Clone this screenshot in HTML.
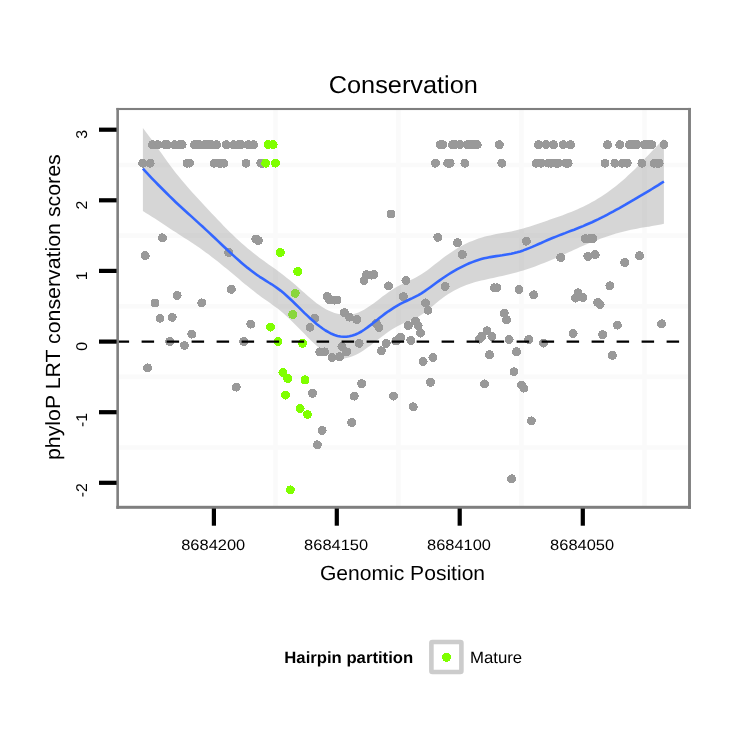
<!DOCTYPE html>
<html lang="en">
<head>
<meta charset="utf-8">
<title>Conservation</title>
<style>
html,body{margin:0;padding:0;background:#fff;}
body{width:750px;height:750px;overflow:hidden;}
svg{display:block;}
text{font-family:"Liberation Sans",sans-serif;fill:#000;text-rendering:geometricPrecision;}
.tk{font-size:15px;}
.ax{font-size:20.5px;}
.tt{font-size:24.4px;}
.lg{font-size:16.3px;}
</style>
</head>
<body>
<svg width="750" height="750" viewBox="0 0 750 750">
<rect x="0" y="0" width="750" height="750" fill="#ffffff"/>

<g stroke="#fafafa" fill="none">
<line x1="275.5" y1="109.3" x2="275.5" y2="507.4" stroke-width="4.6"/>
<line x1="398.4" y1="109.3" x2="398.4" y2="507.4" stroke-width="4.6"/>
<line x1="521.4" y1="109.3" x2="521.4" y2="507.4" stroke-width="4.6"/>
<line x1="644.5" y1="109.3" x2="644.5" y2="507.4" stroke-width="4.6"/>
<line x1="117.7" y1="165.0" x2="689.4" y2="165.0" stroke-width="4.6"/>
<line x1="117.7" y1="235.6" x2="689.4" y2="235.6" stroke-width="4.6"/>
<line x1="117.7" y1="306.2" x2="689.4" y2="306.2" stroke-width="4.6"/>
<line x1="117.7" y1="376.9" x2="689.4" y2="376.9" stroke-width="4.6"/>
<line x1="117.7" y1="447.5" x2="689.4" y2="447.5" stroke-width="4.6"/>
</g>
<g fill="#999999" shape-rendering="crispEdges">
<circle cx="142.7" cy="163.2" r="4.5"/>
<circle cx="145.2" cy="255.6" r="4.5"/>
<circle cx="147.7" cy="367.9" r="4.5"/>
<circle cx="150.1" cy="163.2" r="4.5"/>
<circle cx="152.6" cy="144.7" r="4.5"/>
<circle cx="155.0" cy="303.1" r="4.5"/>
<circle cx="157.5" cy="144.7" r="4.5"/>
<circle cx="160.0" cy="318.3" r="4.5"/>
<circle cx="162.4" cy="237.8" r="4.5"/>
<circle cx="164.9" cy="144.7" r="4.5"/>
<circle cx="167.3" cy="144.7" r="4.5"/>
<circle cx="169.8" cy="341.5" r="4.5"/>
<circle cx="172.2" cy="317.3" r="4.5"/>
<circle cx="174.7" cy="144.7" r="4.5"/>
<circle cx="177.2" cy="295.5" r="4.5"/>
<circle cx="179.6" cy="144.7" r="4.5"/>
<circle cx="182.1" cy="144.7" r="4.5"/>
<circle cx="184.5" cy="345.5" r="4.5"/>
<circle cx="187.0" cy="163.2" r="4.5"/>
<circle cx="189.5" cy="163.2" r="4.5"/>
<circle cx="191.9" cy="334.1" r="4.5"/>
<circle cx="194.4" cy="144.7" r="4.5"/>
<circle cx="196.8" cy="144.7" r="4.5"/>
<circle cx="199.3" cy="144.7" r="4.5"/>
<circle cx="201.8" cy="302.9" r="4.5"/>
<circle cx="204.2" cy="144.7" r="4.5"/>
<circle cx="206.7" cy="144.7" r="4.5"/>
<circle cx="209.1" cy="144.7" r="4.5"/>
<circle cx="211.6" cy="144.7" r="4.5"/>
<circle cx="214.1" cy="163.2" r="4.5"/>
<circle cx="216.5" cy="144.7" r="4.5"/>
<circle cx="219.0" cy="163.2" r="4.5"/>
<circle cx="221.4" cy="163.2" r="4.5"/>
<circle cx="223.9" cy="163.2" r="4.5"/>
<circle cx="226.3" cy="144.7" r="4.5"/>
<circle cx="228.8" cy="252.5" r="4.5"/>
<circle cx="231.3" cy="289.3" r="4.5"/>
<circle cx="233.7" cy="144.7" r="4.5"/>
<circle cx="236.2" cy="387.1" r="4.5"/>
<circle cx="238.6" cy="144.7" r="4.5"/>
<circle cx="241.1" cy="144.7" r="4.5"/>
<circle cx="243.6" cy="341.5" r="4.5"/>
<circle cx="246.0" cy="163.2" r="4.5"/>
<circle cx="248.5" cy="144.7" r="4.5"/>
<circle cx="250.9" cy="324.1" r="4.5"/>
<circle cx="253.4" cy="144.7" r="4.5"/>
<circle cx="255.9" cy="239.0" r="4.5"/>
<circle cx="258.3" cy="240.6" r="4.5"/>
<circle cx="260.8" cy="163.2" r="4.5"/>
<circle cx="263.2" cy="163.2" r="4.5"/>
<circle cx="310.0" cy="327.3" r="4.5"/>
<circle cx="312.4" cy="393.3" r="4.5"/>
<circle cx="314.9" cy="318.1" r="4.5"/>
<circle cx="317.3" cy="444.8" r="4.5"/>
<circle cx="319.8" cy="351.9" r="4.5"/>
<circle cx="322.2" cy="430.5" r="4.5"/>
<circle cx="324.7" cy="351.9" r="4.5"/>
<circle cx="327.2" cy="296.3" r="4.5"/>
<circle cx="329.6" cy="300.0" r="4.5"/>
<circle cx="332.1" cy="357.6" r="4.5"/>
<circle cx="334.5" cy="300.1" r="4.5"/>
<circle cx="337.0" cy="300.1" r="4.5"/>
<circle cx="339.5" cy="356.6" r="4.5"/>
<circle cx="341.9" cy="346.6" r="4.5"/>
<circle cx="344.4" cy="312.6" r="4.5"/>
<circle cx="346.8" cy="351.9" r="4.5"/>
<circle cx="349.3" cy="317.1" r="4.5"/>
<circle cx="351.8" cy="422.5" r="4.5"/>
<circle cx="354.2" cy="396.1" r="4.5"/>
<circle cx="356.7" cy="319.6" r="4.5"/>
<circle cx="359.1" cy="343.3" r="4.5"/>
<circle cx="361.6" cy="383.6" r="4.5"/>
<circle cx="364.0" cy="280.6" r="4.5"/>
<circle cx="366.5" cy="274.6" r="4.5"/>
<circle cx="369.0" cy="275.1" r="4.5"/>
<circle cx="371.4" cy="275.1" r="4.5"/>
<circle cx="373.9" cy="274.6" r="4.5"/>
<circle cx="376.3" cy="323.4" r="4.5"/>
<circle cx="378.8" cy="327.4" r="4.5"/>
<circle cx="381.3" cy="350.8" r="4.5"/>
<circle cx="386.2" cy="343.4" r="4.5"/>
<circle cx="388.6" cy="285.9" r="4.5"/>
<circle cx="391.1" cy="214.0" r="4.5"/>
<circle cx="393.6" cy="396.1" r="4.5"/>
<circle cx="396.0" cy="341.1" r="4.5"/>
<circle cx="398.5" cy="339.1" r="4.5"/>
<circle cx="400.9" cy="337.1" r="4.5"/>
<circle cx="403.4" cy="296.6" r="4.5"/>
<circle cx="405.9" cy="280.4" r="4.5"/>
<circle cx="408.3" cy="325.4" r="4.5"/>
<circle cx="410.8" cy="340.4" r="4.5"/>
<circle cx="413.2" cy="406.8" r="4.5"/>
<circle cx="415.7" cy="321.1" r="4.5"/>
<circle cx="418.1" cy="325.9" r="4.5"/>
<circle cx="420.6" cy="333.1" r="4.5"/>
<circle cx="423.1" cy="361.4" r="4.5"/>
<circle cx="425.5" cy="302.9" r="4.5"/>
<circle cx="428.0" cy="310.3" r="4.5"/>
<circle cx="430.4" cy="382.3" r="4.5"/>
<circle cx="432.9" cy="357.5" r="4.5"/>
<circle cx="435.4" cy="163.2" r="4.5"/>
<circle cx="437.8" cy="237.3" r="4.5"/>
<circle cx="440.3" cy="144.7" r="4.5"/>
<circle cx="442.7" cy="144.7" r="4.5"/>
<circle cx="445.2" cy="286.5" r="4.5"/>
<circle cx="447.7" cy="163.2" r="4.5"/>
<circle cx="450.1" cy="163.2" r="4.5"/>
<circle cx="452.6" cy="144.7" r="4.5"/>
<circle cx="455.0" cy="144.7" r="4.5"/>
<circle cx="457.5" cy="242.6" r="4.5"/>
<circle cx="460.0" cy="144.7" r="4.5"/>
<circle cx="462.4" cy="254.5" r="4.5"/>
<circle cx="464.9" cy="163.2" r="4.5"/>
<circle cx="467.3" cy="144.7" r="4.5"/>
<circle cx="469.8" cy="144.7" r="4.5"/>
<circle cx="472.2" cy="144.7" r="4.5"/>
<circle cx="474.7" cy="144.7" r="4.5"/>
<circle cx="477.2" cy="144.7" r="4.5"/>
<circle cx="479.6" cy="339.1" r="4.5"/>
<circle cx="482.1" cy="336.0" r="4.5"/>
<circle cx="484.5" cy="383.9" r="4.5"/>
<circle cx="487.0" cy="330.8" r="4.5"/>
<circle cx="489.5" cy="354.8" r="4.5"/>
<circle cx="491.9" cy="336.6" r="4.5"/>
<circle cx="494.4" cy="287.8" r="4.5"/>
<circle cx="496.8" cy="287.8" r="4.5"/>
<circle cx="499.3" cy="144.7" r="4.5"/>
<circle cx="501.8" cy="163.2" r="4.5"/>
<circle cx="504.2" cy="313.1" r="4.5"/>
<circle cx="506.7" cy="319.9" r="4.5"/>
<circle cx="509.1" cy="339.5" r="4.5"/>
<circle cx="511.6" cy="478.8" r="4.5"/>
<circle cx="514.0" cy="371.8" r="4.5"/>
<circle cx="516.5" cy="351.6" r="4.5"/>
<circle cx="519.0" cy="289.6" r="4.5"/>
<circle cx="521.4" cy="385.1" r="4.5"/>
<circle cx="523.9" cy="388.1" r="4.5"/>
<circle cx="526.3" cy="241.2" r="4.5"/>
<circle cx="528.8" cy="339.5" r="4.5"/>
<circle cx="531.3" cy="420.9" r="4.5"/>
<circle cx="533.7" cy="294.8" r="4.5"/>
<circle cx="536.2" cy="163.2" r="4.5"/>
<circle cx="538.6" cy="144.7" r="4.5"/>
<circle cx="541.1" cy="163.2" r="4.5"/>
<circle cx="543.6" cy="343.1" r="4.5"/>
<circle cx="546.0" cy="144.7" r="4.5"/>
<circle cx="548.5" cy="163.2" r="4.5"/>
<circle cx="550.9" cy="163.2" r="4.5"/>
<circle cx="553.4" cy="144.7" r="4.5"/>
<circle cx="555.9" cy="163.2" r="4.5"/>
<circle cx="558.3" cy="163.2" r="4.5"/>
<circle cx="560.8" cy="257.5" r="4.5"/>
<circle cx="563.2" cy="144.7" r="4.5"/>
<circle cx="565.7" cy="163.2" r="4.5"/>
<circle cx="568.1" cy="163.2" r="4.5"/>
<circle cx="570.6" cy="144.7" r="4.5"/>
<circle cx="573.1" cy="333.5" r="4.5"/>
<circle cx="575.5" cy="298.1" r="4.5"/>
<circle cx="578.0" cy="292.9" r="4.5"/>
<circle cx="580.4" cy="296.6" r="4.5"/>
<circle cx="582.9" cy="297.6" r="4.5"/>
<circle cx="585.4" cy="238.6" r="4.5"/>
<circle cx="587.8" cy="256.4" r="4.5"/>
<circle cx="590.3" cy="238.6" r="4.5"/>
<circle cx="592.7" cy="238.6" r="4.5"/>
<circle cx="595.2" cy="254.6" r="4.5"/>
<circle cx="597.7" cy="302.6" r="4.5"/>
<circle cx="600.1" cy="304.4" r="4.5"/>
<circle cx="602.6" cy="334.6" r="4.5"/>
<circle cx="605.0" cy="163.2" r="4.5"/>
<circle cx="607.5" cy="144.7" r="4.5"/>
<circle cx="609.9" cy="285.8" r="4.5"/>
<circle cx="612.4" cy="355.4" r="4.5"/>
<circle cx="614.9" cy="163.2" r="4.5"/>
<circle cx="617.3" cy="325.1" r="4.5"/>
<circle cx="619.8" cy="144.7" r="4.5"/>
<circle cx="622.2" cy="163.2" r="4.5"/>
<circle cx="624.7" cy="262.5" r="4.5"/>
<circle cx="627.2" cy="163.2" r="4.5"/>
<circle cx="629.6" cy="144.7" r="4.5"/>
<circle cx="632.1" cy="144.7" r="4.5"/>
<circle cx="634.5" cy="144.7" r="4.5"/>
<circle cx="637.0" cy="144.7" r="4.5"/>
<circle cx="639.5" cy="255.6" r="4.5"/>
<circle cx="641.9" cy="163.2" r="4.5"/>
<circle cx="644.4" cy="144.7" r="4.5"/>
<circle cx="646.8" cy="144.7" r="4.5"/>
<circle cx="649.3" cy="144.7" r="4.5"/>
<circle cx="651.8" cy="144.7" r="4.5"/>
<circle cx="654.2" cy="163.2" r="4.5"/>
<circle cx="656.7" cy="163.2" r="4.5"/>
<circle cx="659.1" cy="163.2" r="4.5"/>
<circle cx="661.6" cy="323.8" r="4.5"/>
<circle cx="664.0" cy="144.7" r="4.5"/>
</g>
<g fill="#7fff00" shape-rendering="crispEdges">
<circle cx="265.7" cy="163.2" r="4.5"/>
<circle cx="268.1" cy="144.7" r="4.5"/>
<circle cx="270.6" cy="327.1" r="4.5"/>
<circle cx="273.1" cy="144.7" r="4.5"/>
<circle cx="275.5" cy="163.2" r="4.5"/>
<circle cx="278.0" cy="341.5" r="4.5"/>
<circle cx="280.4" cy="252.5" r="4.5"/>
<circle cx="282.9" cy="372.5" r="4.5"/>
<circle cx="285.4" cy="395.1" r="4.5"/>
<circle cx="287.8" cy="378.5" r="4.5"/>
<circle cx="290.3" cy="489.9" r="4.5"/>
<circle cx="292.7" cy="314.5" r="4.5"/>
<circle cx="295.2" cy="293.3" r="4.5"/>
<circle cx="297.7" cy="271.6" r="4.5"/>
<circle cx="300.1" cy="408.5" r="4.5"/>
<circle cx="302.6" cy="343.3" r="4.5"/>
<circle cx="305.0" cy="379.9" r="4.5"/>
<circle cx="307.5" cy="414.5" r="4.5"/>
</g>
<polygon points="142.9,128.0 145.9,131.9 148.9,136.0 151.9,140.1 154.9,144.2 157.9,148.4 160.9,152.6 163.9,156.8 166.9,160.9 169.8,165.0 172.8,169.0 175.8,172.9 178.8,176.6 181.8,180.3 184.8,183.8 187.8,187.3 190.8,190.7 193.8,194.0 196.8,197.3 199.8,200.6 202.8,203.8 205.8,207.0 208.8,210.2 211.8,213.4 214.8,216.6 217.8,219.7 220.8,222.8 223.7,225.9 226.7,228.9 229.7,231.9 232.7,234.8 235.7,237.7 238.7,240.5 241.7,243.2 244.7,245.8 247.7,248.4 250.7,250.8 253.7,253.3 256.7,255.6 259.7,257.9 262.7,260.1 265.7,262.3 268.7,264.4 271.7,266.5 274.6,268.6 277.6,270.8 280.6,273.0 283.6,275.3 286.6,277.7 289.6,280.1 292.6,282.6 295.6,285.1 298.6,287.7 301.6,290.4 304.6,293.1 307.6,295.7 310.6,298.3 313.6,300.8 316.6,303.2 319.6,305.3 322.6,307.3 325.5,309.0 328.5,310.5 331.5,311.8 334.5,312.9 337.5,313.7 340.5,314.3 343.5,314.6 346.5,314.8 349.5,314.6 352.5,314.2 355.5,313.5 358.5,312.4 361.5,311.1 364.5,309.5 367.5,307.6 370.5,305.6 373.5,303.4 376.5,301.2 379.4,298.9 382.4,296.6 385.4,294.4 388.4,292.3 391.4,290.3 394.4,288.3 397.4,286.5 400.4,284.9 403.4,283.4 406.4,281.9 409.4,280.6 412.4,279.2 415.4,277.7 418.4,276.1 421.4,274.3 424.4,272.3 427.4,270.2 430.3,267.9 433.3,265.6 436.3,263.2 439.3,260.9 442.3,258.6 445.3,256.3 448.3,254.2 451.3,252.2 454.3,250.2 457.3,248.3 460.3,246.6 463.3,245.0 466.3,243.5 469.3,242.1 472.3,240.9 475.3,239.7 478.3,238.6 481.3,237.7 484.2,236.8 487.2,236.0 490.2,235.4 493.2,234.7 496.2,234.1 499.2,233.6 502.2,233.1 505.2,232.5 508.2,232.0 511.2,231.4 514.2,230.8 517.2,230.1 520.2,229.3 523.2,228.5 526.2,227.6 529.2,226.7 532.2,225.8 535.1,224.8 538.1,223.8 541.1,222.8 544.1,221.7 547.1,220.7 550.1,219.6 553.1,218.6 556.1,217.5 559.1,216.4 562.1,215.4 565.1,214.3 568.1,213.1 571.1,211.9 574.1,210.7 577.1,209.5 580.1,208.1 583.1,206.8 586.0,205.3 589.0,203.8 592.0,202.1 595.0,200.4 598.0,198.6 601.0,196.7 604.0,194.8 607.0,192.7 610.0,190.5 613.0,188.3 616.0,185.9 619.0,183.5 622.0,181.0 625.0,178.4 628.0,175.6 631.0,172.8 634.0,169.9 637.0,166.9 639.9,163.9 642.9,160.8 645.9,157.6 648.9,154.5 651.9,151.3 654.9,148.2 657.9,145.1 660.9,142.0 663.9,139.0 663.9,223.8 660.9,224.5 657.9,225.1 654.9,225.6 651.9,226.1 648.9,226.7 645.9,227.1 642.9,227.6 639.9,228.1 637.0,228.7 634.0,229.2 631.0,229.8 628.0,230.5 625.0,231.2 622.0,231.9 619.0,232.7 616.0,233.6 613.0,234.5 610.0,235.4 607.0,236.4 604.0,237.5 601.0,238.5 598.0,239.7 595.0,240.8 592.0,242.0 589.0,243.3 586.0,244.5 583.1,245.8 580.1,247.1 577.1,248.5 574.1,249.8 571.1,251.2 568.1,252.5 565.1,253.9 562.1,255.3 559.1,256.6 556.1,257.9 553.1,259.2 550.1,260.5 547.1,261.8 544.1,263.0 541.1,264.1 538.1,265.3 535.1,266.4 532.2,267.5 529.2,268.5 526.2,269.5 523.2,270.4 520.2,271.3 517.2,272.2 514.2,273.0 511.2,273.8 508.2,274.5 505.2,275.2 502.2,275.9 499.2,276.6 496.2,277.2 493.2,277.9 490.2,278.5 487.2,279.2 484.2,279.9 481.3,280.6 478.3,281.3 475.3,282.1 472.3,283.0 469.3,284.0 466.3,285.0 463.3,286.2 460.3,287.5 457.3,288.9 454.3,290.5 451.3,292.2 448.3,294.1 445.3,296.1 442.3,298.2 439.3,300.6 436.3,303.0 433.3,305.5 430.3,308.0 427.4,310.4 424.4,312.7 421.4,314.8 418.4,316.7 415.4,318.2 412.4,319.6 409.4,320.9 406.4,322.1 403.4,323.3 400.4,324.7 397.4,326.2 394.4,327.9 391.4,329.8 388.4,331.8 385.4,333.9 382.4,336.2 379.4,338.4 376.5,340.8 373.5,343.1 370.5,345.4 367.5,347.6 364.5,349.7 361.5,351.7 358.5,353.5 355.5,355.0 352.5,356.3 349.5,357.3 346.5,358.0 343.5,358.4 340.5,358.3 337.5,357.9 334.5,357.1 331.5,356.0 328.5,354.5 325.5,352.7 322.6,350.6 319.6,348.3 316.6,345.8 313.6,343.0 310.6,340.2 307.6,337.2 304.6,334.1 301.6,331.1 298.6,328.0 295.6,324.9 292.6,322.0 289.6,319.1 286.6,316.3 283.6,313.6 280.6,311.0 277.6,308.6 274.6,306.4 271.7,304.2 268.7,302.1 265.7,300.0 262.7,297.9 259.7,295.7 256.7,293.5 253.7,291.1 250.7,288.8 247.7,286.3 244.7,283.9 241.7,281.4 238.7,278.8 235.7,276.3 232.7,273.8 229.7,271.3 226.7,268.8 223.7,266.4 220.8,264.0 217.8,261.6 214.8,259.2 211.8,256.9 208.8,254.6 205.8,252.4 202.8,250.3 199.8,248.1 196.8,246.1 193.8,244.1 190.8,242.1 187.8,240.1 184.8,238.2 181.8,236.2 178.8,234.3 175.8,232.3 172.8,230.4 169.8,228.4 166.9,226.4 163.9,224.5 160.9,222.5 157.9,220.5 154.9,218.6 151.9,216.7 148.9,214.7 145.9,212.9 142.9,211.0" fill="#999999" fill-opacity="0.4"/>
<polyline points="142.9,168.7 145.9,171.9 148.9,175.1 151.9,178.3 154.9,181.4 157.9,184.5 160.9,187.5 163.9,190.5 166.9,193.5 169.8,196.4 172.8,199.3 175.8,202.2 178.8,205.0 181.8,207.7 184.8,210.5 187.8,213.2 190.8,215.9 193.8,218.6 196.8,221.4 199.8,224.1 202.8,226.8 205.8,229.6 208.8,232.4 211.8,235.2 214.8,238.0 217.8,240.9 220.8,243.7 223.7,246.5 226.7,249.3 229.7,252.1 232.7,254.9 235.7,257.6 238.7,260.3 241.7,262.9 244.7,265.4 247.7,267.9 250.7,270.2 253.7,272.5 256.7,274.7 259.7,276.8 262.7,278.7 265.7,280.6 268.7,282.5 271.7,284.3 274.6,286.3 277.6,288.4 280.6,290.6 283.6,293.1 286.6,295.7 289.6,298.5 292.6,301.3 295.6,304.2 298.6,307.2 301.6,310.1 304.6,313.1 307.6,315.9 310.6,318.7 313.6,321.3 316.6,323.9 319.6,326.3 322.6,328.5 325.5,330.5 328.5,332.2 331.5,333.8 334.5,335.0 337.5,335.9 340.5,336.5 343.5,336.8 346.5,336.7 349.5,336.3 352.5,335.5 355.5,334.5 358.5,333.1 361.5,331.5 364.5,329.5 367.5,327.4 370.5,325.1 373.5,322.8 376.5,320.4 379.4,318.0 382.4,315.7 385.4,313.4 388.4,311.3 391.4,309.3 394.4,307.4 397.4,305.6 400.4,303.9 403.4,302.4 406.4,301.0 409.4,299.5 412.4,298.1 415.4,296.6 418.4,295.1 421.4,293.3 424.4,291.4 427.4,289.3 430.3,287.2 433.3,285.0 436.3,282.8 439.3,280.6 442.3,278.5 445.3,276.5 448.3,274.5 451.3,272.7 454.3,270.9 457.3,269.2 460.3,267.6 463.3,266.1 466.3,264.6 469.3,263.3 472.3,262.1 475.3,261.0 478.3,260.0 481.3,259.1 484.2,258.3 487.2,257.7 490.2,257.1 493.2,256.6 496.2,256.1 499.2,255.7 502.2,255.3 505.2,254.8 508.2,254.3 511.2,253.8 514.2,253.1 517.2,252.3 520.2,251.4 523.2,250.4 526.2,249.3 529.2,248.1 532.2,246.9 535.1,245.6 538.1,244.3 541.1,243.0 544.1,241.6 547.1,240.3 550.1,239.0 553.1,237.8 556.1,236.6 559.1,235.4 562.1,234.2 565.1,233.1 568.1,231.9 571.1,230.8 574.1,229.7 577.1,228.5 580.1,227.3 583.1,226.1 586.0,224.8 589.0,223.5 592.0,222.2 595.0,220.8 598.0,219.4 601.0,217.9 604.0,216.4 607.0,214.8 610.0,213.2 613.0,211.6 616.0,209.9 619.0,208.3 622.0,206.6 625.0,204.9 628.0,203.1 631.0,201.4 634.0,199.7 637.0,197.9 639.9,196.1 642.9,194.4 645.9,192.6 648.9,190.8 651.9,189.0 654.9,187.1 657.9,185.3 660.9,183.4 663.9,181.5" fill="none" stroke="#3366ff" stroke-width="2.6" stroke-linejoin="round"/>
<line x1="116.6" y1="341.6" x2="689.4" y2="341.6" stroke="#000" stroke-width="2.3" stroke-dasharray="12.5 12.5"/>
<g fill="#7f7f7f">
<rect x="116.35" y="107.95" width="574.6" height="2.1"/>
<rect x="116.35" y="505.8" width="574.6" height="3.0"/>
<rect x="116.35" y="107.95" width="2.6" height="400.85"/>
<rect x="688.05" y="107.95" width="2.9" height="400.85"/>
</g>
<g stroke="#000" stroke-width="4.2">
<line x1="99" y1="129.7" x2="116.6" y2="129.7"/>
<line x1="99" y1="200.3" x2="116.6" y2="200.3"/>
<line x1="99" y1="270.9" x2="116.6" y2="270.9"/>
<line x1="99" y1="341.6" x2="116.6" y2="341.6"/>
<line x1="99" y1="412.2" x2="116.6" y2="412.2"/>
<line x1="99" y1="482.8" x2="116.6" y2="482.8"/>
<line x1="213.9" y1="508.5" x2="213.9" y2="525.7"/>
<line x1="336.8" y1="508.5" x2="336.8" y2="525.7"/>
<line x1="459.7" y1="508.5" x2="459.7" y2="525.7"/>
<line x1="582.8" y1="508.5" x2="582.8" y2="525.7"/>
</g>
<text class="tk" style="font-size:15.6px" text-anchor="end" transform="translate(87.0,130.0) rotate(-90) scale(1.02,1)">3</text>
<text class="tk" style="font-size:15.6px" text-anchor="end" transform="translate(87.0,200.6) rotate(-90) scale(1.02,1)">2</text>
<text class="tk" style="font-size:15.6px" text-anchor="end" transform="translate(87.0,271.5) rotate(-90) scale(1.02,1)">1</text>
<text class="tk" style="font-size:15.6px" text-anchor="end" transform="translate(87.0,341.9) rotate(-90) scale(1.02,1)">0</text>
<text class="tk" style="font-size:15.6px" text-anchor="end" transform="translate(87.0,412.8) rotate(-90) scale(1.02,1)">-1</text>
<text class="tk" style="font-size:15.6px" text-anchor="end" transform="translate(87.0,483.1) rotate(-90) scale(1.02,1)">-2</text>
<text class="tk" text-anchor="middle" transform="translate(213.2,550) scale(1.095,1)">8684200</text>
<text class="tk" text-anchor="middle" transform="translate(336.1,550) scale(1.095,1)">8684150</text>
<text class="tk" text-anchor="middle" transform="translate(459.0,550) scale(1.095,1)">8684100</text>
<text class="tk" text-anchor="middle" transform="translate(582.1,550) scale(1.095,1)">8684050</text>
<text class="tt" text-anchor="middle" transform="translate(403.3,92.9) scale(1.037,1)">Conservation</text>
<text class="ax" text-anchor="middle" transform="translate(402.5,579.8) scale(1.028,1)">Genomic Position</text>
<text class="ax" text-anchor="middle" transform="translate(60.0,307.2) rotate(-90) scale(1.04,1)">phyloP LRT conservation scores</text>
<text class="lg" font-weight="bold" transform="translate(284.3,662.5) scale(1.025,1)">Hairpin partition</text>
<rect x="431.4" y="642.0" width="30.0" height="30.0" rx="1" fill="#ffffff" stroke="#cccccc" stroke-width="4.6"/>
<circle cx="446.5" cy="657.4" r="4.5" fill="#7fff00" shape-rendering="crispEdges"/>
<text class="lg" transform="translate(470,662.5) scale(1.03,1)">Mature</text>
</svg>
</body>
</html>
